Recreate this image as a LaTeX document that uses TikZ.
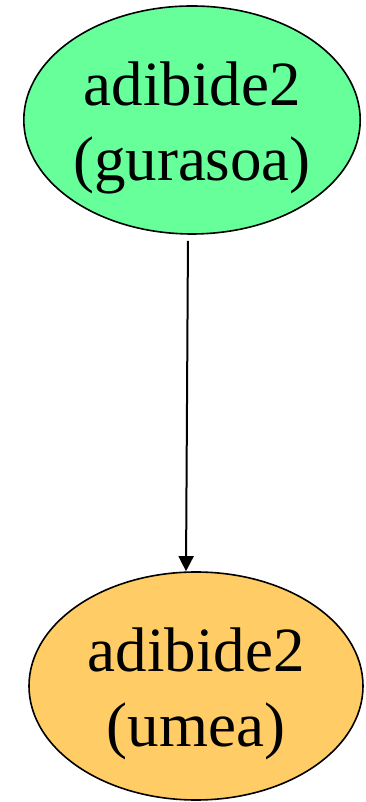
\documentclass[tikz,border=0pt]{standalone}
\usepackage{fontspec}
\setmainfont{Liberation Serif}
\usetikzlibrary{shapes.geometric,arrows.meta}
\definecolor{gr}{HTML}{66FF99}
\definecolor{orng}{HTML}{FFCC66}
\newcommand{\tstrut}{\rule{0pt}{60pt}}
\tikzset{
  ell/.style={ellipse, draw=black, line width=1.6pt, minimum width=334pt, minimum height=228pt, inner sep=0pt, align=center, font=\fontsize{63}{75}\selectfont},
  conn/.style={line width=2pt, -{Triangle[length=15pt,width=15pt]}}
}
\begin{document}
\begin{tikzpicture}[x=1pt,y=1pt]
\useasboundingbox (0,0) rectangle (365,802);
\node[ell, fill=gr] (a) at (192,682) {\tstrut adibide2\\(gurasoa)};
\node[ell, fill=orng] (b) at (196,116) {\tstrut adibide2\\(umea)};
\draw[conn, shorten <=6pt] ([xshift=-4pt]a.south) -- ([xshift=-10pt]b.north);
\end{tikzpicture}
\end{document}
